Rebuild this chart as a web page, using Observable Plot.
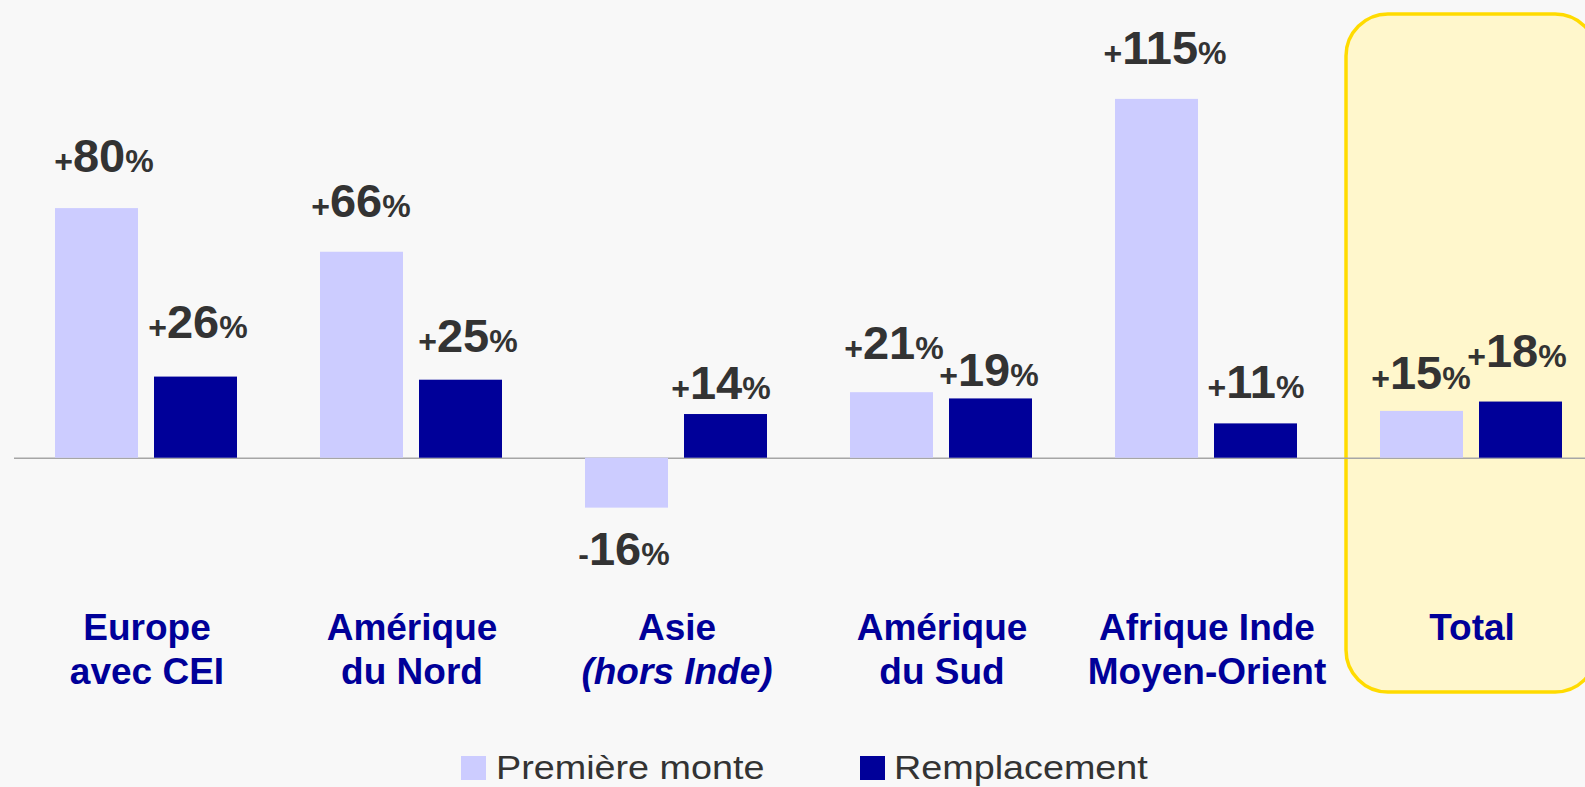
<!DOCTYPE html>
<html>
<head>
<meta charset="utf-8">
<script src="https://cdn.jsdelivr.net/npm/d3@7"></script>
<script src="https://cdn.jsdelivr.net/npm/@observablehq/plot@0.6"></script>
<style>
  html, body { margin: 0; padding: 0; background: #f8f8f8; width: 1585px; height: 787px; overflow: hidden; }
  #chart { position: relative; width: 1585px; height: 787px; }
  #chart svg { display: block; }
  #legend { position: absolute; left: 0; top: 0; width: 1585px; height: 787px; pointer-events: none;
    font-family: "Liberation Sans", Arial, sans-serif; font-size: 34px; line-height: 1; color: #333333; }
  #legend .sw { position: absolute; top: 756px; width: 25px; height: 24px; }
  #legend .lbl { position: absolute; top: 750px; white-space: nowrap; transform: scaleX(1.11); transform-origin: 0 50%; }
</style>
</head>
<body>
<div id="chart"></div>
<script>
// ---------- data ----------
const categories = ["Europe avec CEI", "Amérique du Nord", "Asie (hors Inde)", "Amérique du Sud", "Afrique Inde Moyen-Orient", "Total"];
const categoryLines = [["Europe", "avec CEI"], ["Amérique", "du Nord"], ["Asie", "(hors Inde)"], ["Amérique", "du Sud"], ["Afrique Inde", "Moyen-Orient"], ["Total"]];
const series = ["Première monte", "Remplacement"];
const premiereMonte = [80, 66, -16, 21, 115, 15];
const remplacement = [26, 25, 14, 19, 11, 18];
const seriesColors = ["#ccccff", "#000099"];

// ---------- table ----------
const seriesValues = [premiereMonte, remplacement];
const rows = [];
categories.forEach((c, i) => series.forEach((s, j) => rows.push({category: c, series: s, value: seriesValues[j][i]})));
const fmt = v => (v >= 0 ? "+" : "-") + Math.abs(v) + "%";
const fxLabel = new Map(categories.map((c, i) => [c, categoryLines[i].join("\n")]));

// label layout nudges (dx, baseline offset from bar end), in px, per category / series
const labelNudge = {
  "Europe avec CEI": [[7, -37], [2, -39]],
  "Amérique du Nord": [[-1, -35], [7, -28]],
  "Asie (hors Inde)": [[-3, 57], [-5, -16]],
  "Amérique du Sud": [[2, -34], [-2, -13]],
  "Afrique Inde Moyen-Orient": [[8, -35], [0, -26]],
  "Total": [[-1, -22], [-4, -35]]
};

const font = "'Liberation Sans', Arial, Helvetica, sans-serif";
const labelMarks = rows.map(r => {
  const [dx, dy] = labelNudge[r.category][series.indexOf(r.series)];
  return Plot.text([r], {
    fx: "category", x: "series", y: "value", text: d => fmt(d.value),
    lineAnchor: "bottom", dx, dy, fontFamily: font, fontWeight: "bold", fontSize: 47, fill: "#333333"
  });
});

const plot = Plot.plot({
  width: 1585,
  height: 720,
  marginTop: 14,
  marginBottom: 120,
  marginLeft: 54,
  marginRight: 22,
  style: {background: "transparent", fontFamily: font},
  fx: {domain: categories, paddingInner: 0.31, paddingOuter: 0, label: null},
  x: {domain: series, paddingInner: 0.161, paddingOuter: 0, axis: null},
  y: {domain: [-45.6, 142.2], axis: null},
  color: {domain: series, range: seriesColors},
  marks: [
    Plot.ruleY([0], {stroke: "#a6a6a6", strokeWidth: 1.5, insetLeft: -41, insetRight: -41}),
    Plot.barY(rows, {fx: "category", x: "series", y: "value", fill: "series"}),
    ...labelMarks,
    Plot.axisFx({anchor: "bottom", tickSize: 0, tickPadding: 8, label: null,
      tickFormat: c => fxLabel.get(c), fontSize: 37, fontWeight: "bold", color: "#000099", lineHeight: 1.2, fontFamily: font})
  ]
});

// highlighted "Total" box, positioned from the fx scale
const fx = plot.scale("fx");
const x0 = fx.apply("Total");
const svg = d3.select(plot);
svg.insert("rect", "g")
  .attr("x", x0 - 34).attr("y", 14)
  .attr("width", fx.bandwidth + 68).attr("height", 678)
  .attr("rx", 42).attr("ry", 42)
  .attr("fill", "#fff7cc").attr("stroke", "#ffdb00").attr("stroke-width", 3.5);

// rich value labels: small sign and %, large number
svg.selectAll("text").each(function () {
  const t = this.textContent;
  const m = /^([+-])(\d+)%$/.exec(t);
  if (!m || this.querySelector("tspan")) return;
  this.textContent = "";
  const el = d3.select(this);
  el.append("tspan").attr("font-size", 32).text(m[1]);
  el.append("tspan").attr("font-size", 47).text(m[2]);
  el.append("tspan").attr("font-size", 32).text("%");
});

// axis label styling
svg.selectAll("tspan").each(function () {
  if (this.textContent === "(hors Inde)") d3.select(this).attr("font-style", "italic");
});
svg.selectAll("g[aria-label='fx-axis tick label']").attr("font-weight", "bold");

const chart = document.getElementById("chart");
chart.appendChild(plot);

// legend (swatch left edge, text left edge in px)
const legendPos = [[461, 496], [860, 894]];
const legend = d3.select(chart).append("div").attr("id", "legend");
series.forEach((s, i) => {
  legend.append("span").attr("class", "sw").style("left", legendPos[i][0] + "px").style("background", seriesColors[i]);
  legend.append("span").attr("class", "lbl").style("left", legendPos[i][1] + "px").text(s);
});
</script>
</body>
</html>
